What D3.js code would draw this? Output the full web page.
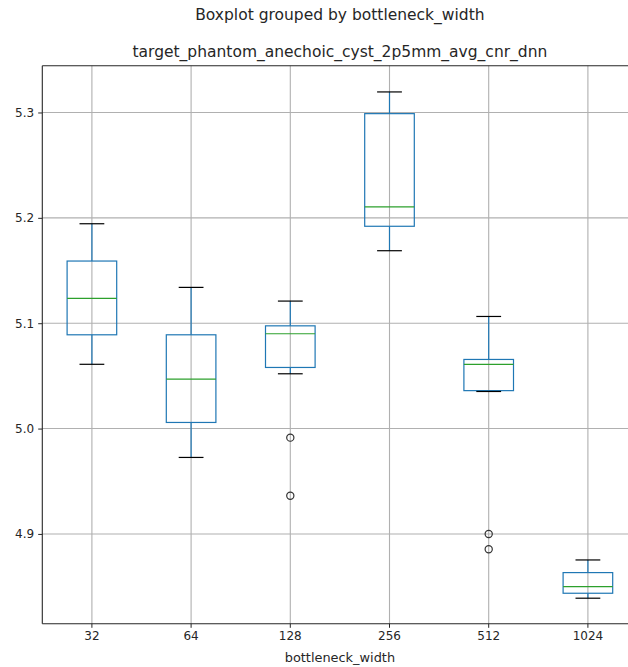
<!DOCTYPE html>
<html>
<head>
<meta charset="utf-8">
<script src="https://cdn.jsdelivr.net/npm/d3@7"></script>
<style>
  html, body { margin: 0; padding: 0; background: #fff; }
  svg { display: block; font-family: "DejaVu Sans", sans-serif; }
</style>
</head>
<body>
<svg id="chart" width="628" height="667"></svg>
<script>
// Data
const categories = ["32", "64", "128", "256", "512", "1024"];
const whiskerLow  = [5.061, 4.9726, 5.052, 5.1688, 5.0352, 4.839];
const q1Values    = [5.089, 5.0058, 5.058, 5.192, 5.036, 4.8437];
const medians     = [5.1235, 5.047, 5.090, 5.2105, 5.061, 4.850];
const q3Values    = [5.159, 5.089, 5.0975, 5.2989, 5.0656, 4.8633];
const whiskerHigh = [5.1944, 5.134, 5.121, 5.3195, 5.1064, 4.8753];
const outliers    = [[], [], [4.9914, 4.9363], [], [4.900, 4.8855], []];
const yTicks = [4.9, 5.0, 5.1, 5.2, 5.3];

(function () {
const boxes = categories.map((c, i) => ({
  cat: c, lo: whiskerLow[i], q1: q1Values[i], med: medians[i],
  q3: q3Values[i], hi: whiskerHigh[i], fl: outliers[i]
}));

const svg = d3.select("#chart");
const pL = 42.3, pT = 65.7, pB = 623.7, pR = 42.3 + 6 * 99.2;

const x = d3.scaleBand().domain(categories).range([pL, pR]).padding(0);
const y = d3.scaleLinear().domain([4.8148, 5.3444]).range([pB, pT]);

const bw = x.bandwidth();
const boxW = bw * 0.5;
const capW = boxW * 0.5;
const cx = c => x(c) + bw / 2;

// grid
const grid = svg.append("g");
grid.selectAll("line.gx").data(categories).enter().append("line")
  .attr("x1", d => cx(d)).attr("x2", d => cx(d))
  .attr("y1", pT).attr("y2", pB)
  .attr("stroke", "#b0b0b0").attr("stroke-width", 1.1);
grid.selectAll("line.gy").data(yTicks).enter().append("line")
  .attr("x1", pL).attr("x2", pR)
  .attr("y1", d => y(d)).attr("y2", d => y(d))
  .attr("stroke", "#b0b0b0").attr("stroke-width", 1.1);

// boxes
const g = svg.append("g").selectAll("g").data(boxes).enter().append("g");
g.append("line").attr("x1", d => cx(d.cat)).attr("x2", d => cx(d.cat))
  .attr("y1", d => y(d.q3)).attr("y2", d => y(d.hi))
  .attr("stroke", "#1f77b4").attr("stroke-width", 1.2);
g.append("line").attr("x1", d => cx(d.cat)).attr("x2", d => cx(d.cat))
  .attr("y1", d => y(d.q1)).attr("y2", d => y(d.lo))
  .attr("stroke", "#1f77b4").attr("stroke-width", 1.2);
g.append("rect")
  .attr("x", d => cx(d.cat) - boxW / 2).attr("width", boxW)
  .attr("y", d => y(d.q3)).attr("height", d => y(d.q1) - y(d.q3))
  .attr("fill", "none").attr("stroke", "#1f77b4").attr("stroke-width", 1.2);
g.append("line").attr("x1", d => cx(d.cat) - boxW / 2).attr("x2", d => cx(d.cat) + boxW / 2)
  .attr("y1", d => y(d.med)).attr("y2", d => y(d.med))
  .attr("stroke", "#2ca02c").attr("stroke-width", 1.2);
g.append("line").attr("x1", d => cx(d.cat) - capW / 2).attr("x2", d => cx(d.cat) + capW / 2)
  .attr("y1", d => y(d.hi)).attr("y2", d => y(d.hi))
  .attr("stroke", "#000").attr("stroke-width", 1.2);
g.append("line").attr("x1", d => cx(d.cat) - capW / 2).attr("x2", d => cx(d.cat) + capW / 2)
  .attr("y1", d => y(d.lo)).attr("y2", d => y(d.lo))
  .attr("stroke", "#000").attr("stroke-width", 1.2);
g.selectAll("circle").data(d => d.fl.map(v => ({ cat: d.cat, v }))).enter().append("circle")
  .attr("cx", d => cx(d.cat)).attr("cy", d => y(d.v)).attr("r", 3.6)
  .attr("fill", "none").attr("stroke", "#333").attr("stroke-width", 1.2);

// axes
const xAxis = svg.append("g").attr("transform", `translate(0,${pB})`)
  .call(d3.axisBottom(x).tickSize(4.1).tickPadding(4));
const yAxis = svg.append("g").attr("transform", `translate(${pL},0)`)
  .call(d3.axisLeft(y).tickValues(yTicks).tickFormat(d3.format(".1f")).tickSize(4.1).tickPadding(4));
[xAxis, yAxis].forEach(a => {
  a.select(".domain").remove();
  a.selectAll("text").attr("font-size", 12).attr("fill", "#262626")
    .attr("font-family", "DejaVu Sans, sans-serif");
  a.selectAll("line").attr("stroke", "#262626").attr("stroke-width", 1);
});

// spines
[[pL, pT, pL, pB], [pL, pB, pR, pB], [pL, pT, pR, pT], [pR, pT, pR, pB]].forEach(s => {
  svg.append("line").attr("x1", s[0]).attr("y1", s[1]).attr("x2", s[2]).attr("y2", s[3])
    .attr("stroke", "#262626").attr("stroke-width", 1.1);
});

// titles
const mid = (pL + pR) / 2;
svg.append("text").attr("x", mid).attr("y", 19.5).attr("text-anchor", "middle")
  .attr("font-size", 15.5).attr("fill", "#262626").text("Boxplot grouped by bottleneck_width");
svg.append("text").attr("x", mid).attr("y", 56.5).attr("text-anchor", "middle")
  .attr("font-size", 15.5).attr("fill", "#262626").text("target_phantom_anechoic_cyst_2p5mm_avg_cnr_dnn");
svg.append("text").attr("x", mid).attr("y", 662).attr("text-anchor", "middle")
  .attr("font-size", 12.9).attr("fill", "#262626").text("bottleneck_width");
})();
</script>
</body>
</html>
